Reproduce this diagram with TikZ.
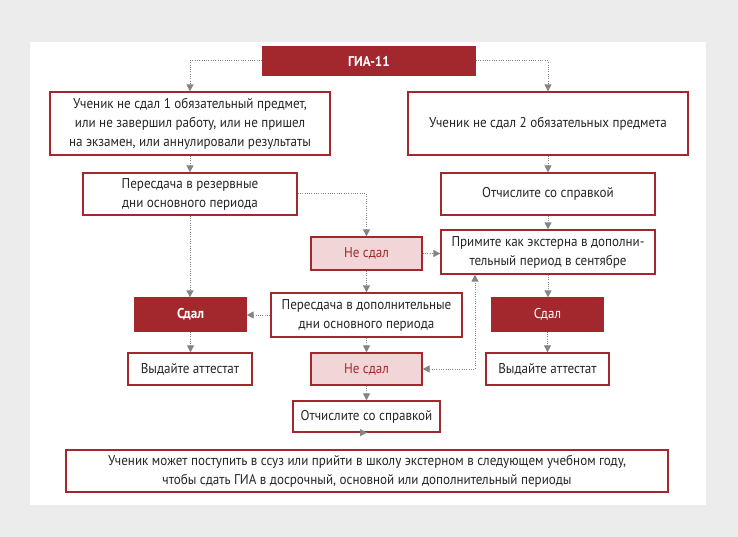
\documentclass[tikz,border=0pt]{standalone}
\usepackage{fontspec}
\setmainfont{PT Sans}[FakeStretch=0.92]
\usetikzlibrary{arrows.meta}
\definecolor{dred}{HTML}{A3282D}
\definecolor{pinkf}{HTML}{F2D6D7}
\definecolor{bgc}{HTML}{ECECEC}
\definecolor{arr}{HTML}{858585}
\tikzset{
  box/.style={draw=dred, line width=1.3pt, fill=white, align=center, inner sep=0pt,
    font=\fontsize{14.2}{19}\selectfont, text=black!85},
  darkbox/.style={box, fill=dred, text=white},
  pinkbox/.style={box, fill=pinkf, text=dred},
  tipk/.tip={Triangle[length=7pt,width=7pt]},
  conn/.style={draw=arr, dash pattern=on 1pt off 1.3pt, line width=1pt, -{tipk}},
  conn2/.style={draw=arr, dash pattern=on 1pt off 1.3pt, line width=1pt, {tipk}-{tipk}}
}
\begin{document}
\begin{tikzpicture}[x=1pt,y=-1pt]
\useasboundingbox[fill=bgc] (0,0) rectangle (738,537);
\fill[white] (30,42) rectangle (706,505);

\node[darkbox, minimum width=212, minimum height=28, font=\fontsize{14.2}{19}\selectfont\bfseries] (gia) at (369,61) {ГИА-11};
\node[box, minimum width=280, minimum height=63] (l1) at (190,123.5) {Ученик не сдал 1 обязательный предмет,\\или не завершил работу, или не пришел\\на экзамен, или аннулировали результаты};
\node[box, minimum width=280, minimum height=63] (r1) at (548,123.5) {Ученик не сдал 2 обязательных предмета};
\node[box, minimum width=214, minimum height=42] (l2) at (190,194) {Пересдача в резервные\\дни основного периода};
\node[box, minimum width=214, minimum height=42] (r2) at (548,194) {Отчислите со справкой};
\node[pinkbox, minimum width=111, minimum height=33] (ns1) at (366.5,253.5) {Не сдал};
\node[box, minimum width=214, minimum height=44] (ext) at (548,252) {Примите как экстерна в дополни-\\тельный период в сентябре};
\node[darkbox, minimum width=111, minimum height=33, font=\fontsize{14.2}{19}\selectfont\bfseries] (sl) at (190.5,314.5) {Сдал};
\node[box, minimum width=191, minimum height=44] (pd) at (366.5,315) {Пересдача в дополнительные\\дни основного периода};
\node[darkbox, minimum width=111, minimum height=33] (sr) at (547.5,314.5) {Сдал};
\node[box, minimum width=124, minimum height=32] (vl) at (190,369) {Выдайте аттестат};
\node[pinkbox, minimum width=111, minimum height=32] (ns2) at (366.5,369) {Не сдал};
\node[box, minimum width=123, minimum height=32] (vr) at (547.5,369) {Выдайте аттестат};
\node[box, minimum width=147, minimum height=31] (otm) at (366.5,416.5) {Отчислите со справкой};
\node[box, minimum width=602, minimum height=42] (bot) at (367,471) {Ученик может поступить в ссуз или прийти в школу экстерном в следующем учебном году,\\чтобы сдать ГИА в досрочный, основной или дополнительный периоды};

\coordinate (k) at (475,369);
\draw[conn] (gia.west) -| (l1.north);
\draw[conn] (gia.east) -| (r1.north);
\draw[conn] (l1.south) -- (l2.north);
\draw[conn] (r1.south) -- (r2.north);
\draw[conn] (l2.east) -| (ns1.north);
\draw[conn] (l2.south) -- (l2.south |- sl.north);
\draw[conn] (r2.south) -- (ext.north);
\draw[conn] (ns1.east) -- (ns1.east -| ext.west);
\draw[conn] (ns1.south) -- (pd.north);
\draw[conn] (pd.west) -- (pd.west -| sl.east);
\draw[conn] (sl.south) -- (sl.south |- vl.north);
\draw[conn] (pd.south) -- (ns2.north);
\draw[conn] (ext.south) -- (ext.south |- sr.north);
\draw[conn] (sr.south) -- (vr.north);
\draw[conn2] (ns2.east) -- (k) -- (k |- ext.south);
\draw[conn] (ns2.south) -- (otm.north);
\draw[conn] (otm.south) -- (otm.south -| bot.north);
\end{tikzpicture}
\end{document}
